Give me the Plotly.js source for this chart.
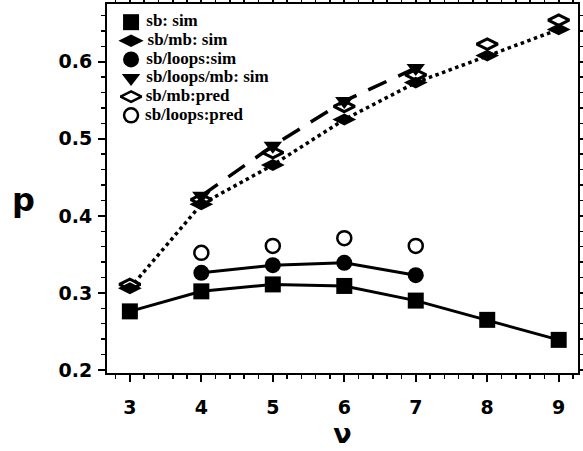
<!DOCTYPE html>
<html>
<head>
<meta charset="utf-8">
<script src="https://cdn.plot.ly/plotly-3.0.1.min.js"></script>
<style>html,body{margin:0;padding:0;background:#fff;}#chart{width:583px;height:451px;}</style>
</head>
<body>
<div id="chart"></div>
<script>
// Data
const nuAll = [3, 4, 5, 6, 7, 8, 9];
const nuLoops = [4, 5, 6, 7];

const sbSim = [0.276, 0.302, 0.311, 0.309, 0.290, 0.265, 0.239];
const sbMbSim = [0.306, 0.415, 0.466, 0.525, 0.573, 0.608, 0.642];
const sbLoopsSim = [0.326, 0.336, 0.339, 0.323];
const sbLoopsMbSim = [0.426, 0.491, 0.549, 0.592];
const sbMbPred = [0.311, 0.421, 0.482, 0.542, 0.583, 0.623, 0.654];
const sbLoopsPred = [0.352, 0.361, 0.371, 0.361];

const xTicks = [3, 4, 5, 6, 7, 8, 9];
const yTicks = [0.2, 0.3, 0.4, 0.5, 0.6];
const yTickText = ['0.2', '0.3', '0.4', '0.5', '0.6'];

const names = ['sb: sim', 'sb/mb: sim', 'sb/loops:sim', 'sb/loops/mb: sim', 'sb/mb:pred', 'sb/loops:pred'];
const symbols = ['square', 'diamond-wide', 'circle', 'triangle-down', 'diamond-wide-open', 'circle-open'];
const sizes = [16, 18, 16, 16, 15, 14];

const K = '#000';
const traces = [
  {x: nuLoops, y: sbLoopsMbSim, mode: 'lines+markers', line: {color: K, width: 3.5, dash: '20px,13px'},
   marker: {symbol: 'triangle-down', size: 16, color: K}},
  {x: nuAll, y: sbMbSim, mode: 'lines+markers', line: {color: K, width: 3.5, dash: 'dot'},
   marker: {symbol: 'diamond-wide', size: 17, color: K}},
  {x: nuAll, y: sbMbPred, mode: 'markers',
   marker: {symbol: 'diamond-wide-open', size: 15, color: K, line: {color: K, width: 3}}},
  {x: nuAll, y: sbSim, mode: 'lines+markers', line: {color: K, width: 3},
   marker: {symbol: 'square', size: 16, color: K}},
  {x: nuLoops, y: sbLoopsSim, mode: 'lines+markers', line: {color: K, width: 3},
   marker: {symbol: 'circle', size: 16, color: K}},
  {x: nuLoops, y: sbLoopsPred, mode: 'markers',
   marker: {symbol: 'circle-open', size: 14, color: K, line: {color: K, width: 2.5}}}
].map(t => Object.assign(t, {showlegend: false, hoverinfo: 'skip'}));

// Legend drawn on its own hidden axes: one entry per name, stacked by index
names.forEach((n, i) => {
  const open = symbols[i].endsWith('open');
  traces.push({x: [0], y: [i], xaxis: 'x2', yaxis: 'y2', mode: 'markers+text', text: ['\u00a0' + n],
    textposition: 'middle right', showlegend: false, hoverinfo: 'skip', cliponaxis: false,
    textfont: {family: 'Liberation Serif', size: 17, color: K, weight: 'bold'},
    marker: {symbol: symbols[i], size: sizes[i], color: K, line: {color: K, width: open ? 2.5 : 0}}});
});

const tickFont = {family: 'DejaVu Sans', size: 19, color: K, weight: 'bold'};
const layout = {
  width: 583, height: 451,
  margin: {l: 107, r: 5, t: 4, b: 78},
  paper_bgcolor: '#fff', plot_bgcolor: 'rgba(0,0,0,0)',
  showlegend: false,
  xaxis: {range: [2.68, 9.27], tickvals: xTicks, ticktext: xTicks.map(String),
    ticks: 'outside', ticklen: 7, tickwidth: 2, tickcolor: K,
    minor: {dtick: 0.2, tick0: 3, ticks: 'outside', ticklen: 4, tickwidth: 1.5, tickcolor: K},
    showline: true, linecolor: K, linewidth: 2, mirror: 'allticks', showgrid: false, zeroline: false,
    tickfont: tickFont, ticklabelstandoff: 9,
    title: {text: 'ν', font: {family: 'DejaVu Sans', size: 27, color: K, weight: 'bold'}, standoff: 5}},
  yaxis: {range: [0.196, 0.675], tickvals: yTicks, ticktext: yTickText,
    ticks: 'outside', ticklen: 7, tickwidth: 2, tickcolor: K,
    minor: {dtick: 0.02, tick0: 0.2, ticks: 'outside', ticklen: 4, tickwidth: 1.5, tickcolor: K},
    showline: true, linecolor: K, linewidth: 2, mirror: 'allticks', showgrid: false, zeroline: false,
    tickfont: tickFont, ticklabelstandoff: 2},
  yaxis3: {overlaying: 'y', side: 'left', range: [0.196, 0.675], tickvals: yTicks, showticklabels: false,
    ticks: 'inside', ticklen: 6, tickwidth: 2, tickcolor: K,
    minor: {dtick: 0.02, tick0: 0.2, ticks: 'inside', ticklen: 3, tickwidth: 1.5, tickcolor: K},
    showline: false, showgrid: false, zeroline: false},
  xaxis2: {domain: [0, 0.5], anchor: 'y2', range: [-24, 211], visible: false, fixedrange: true},
  yaxis2: {domain: [0.673, 0.976], anchor: 'x2', range: [5.5, -0.5], visible: false, fixedrange: true},
  annotations: [{text: 'p', xref: 'paper', yref: 'paper', x: -0.178, y: 0.47, xanchor: 'center', yanchor: 'middle',
    showarrow: false, font: {family: 'DejaVu Sans', size: 32, color: K, weight: 'bold'}}]
};

Plotly.newPlot('chart', traces, layout, {displayModeBar: false, staticPlot: true});
</script>
</body>
</html>
